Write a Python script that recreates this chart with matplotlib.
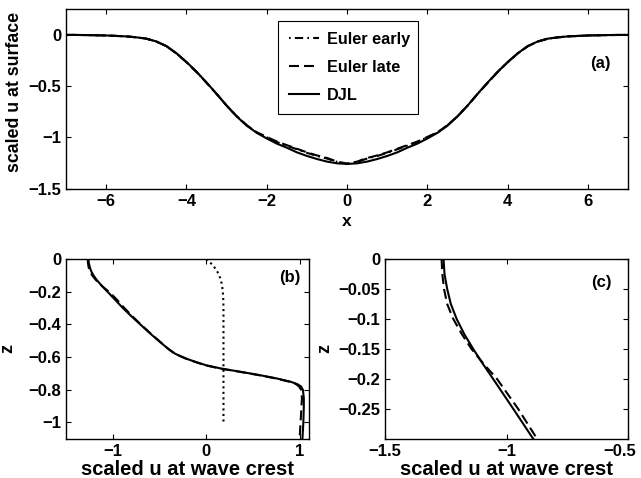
import numpy as np
import matplotlib
matplotlib.use('Agg')
import matplotlib.pyplot as plt
from matplotlib.transforms import ScaledTranslation

plt.rcParams['font.family'] = ['Liberation Sans', 'DejaVu Sans']
plt.rcParams['font.weight'] = 'bold'
plt.rcParams['axes.labelweight'] = 'bold'
plt.rcParams['font.size'] = 12

# panel (a): surface u along x
x_surf = [-7, -6.5, -6, -5.5, -5.25, -5, -4.75, -4.5, -4.25, -4, -3.75, -3.5, -3.25, -3,
          -2.75, -2.5, -2.25, -2, -1.75, -1.5, -1.25, -1, -0.75, -0.5, -0.25, 0,
          0.25, 0.5, 0.75, 1, 1.25, 1.5, 1.75, 2, 2.25, 2.5, 2.75, 3, 3.25, 3.5, 3.75, 4,
          4.25, 4.5, 4.75, 5, 5.25, 5.5, 6, 6.5, 7]
u_djl = [-0.001, -0.003, -0.007, -0.016, -0.025, -0.038, -0.065, -0.11, -0.18, -0.265,
         -0.36, -0.465, -0.575, -0.69, -0.795, -0.885, -0.955, -1.01, -1.06, -1.10, -1.145,
         -1.18, -1.21, -1.235, -1.252, -1.258,
         -1.252, -1.235, -1.21, -1.18, -1.145, -1.10, -1.06, -1.01, -0.955, -0.885, -0.795,
         -0.69, -0.575, -0.465, -0.36, -0.265, -0.18, -0.11, -0.065, -0.038, -0.025, -0.016,
         -0.007, -0.003, -0.001]
u_late = [-0.001, -0.003, -0.007, -0.016, -0.025, -0.038, -0.066, -0.112, -0.182, -0.268,
          -0.363, -0.468, -0.577, -0.69, -0.793, -0.88, -0.95, -0.995, -1.04, -1.075, -1.11,
          -1.145, -1.175, -1.20, -1.235, -1.255,
          -1.235, -1.20, -1.175, -1.145, -1.11, -1.075, -1.04, -0.995, -0.95, -0.88, -0.793,
          -0.69, -0.577, -0.468, -0.363, -0.268, -0.182, -0.112, -0.066, -0.038, -0.025,
          -0.016, -0.007, -0.003, -0.001]
u_early = [-0.001, -0.003, -0.007, -0.016, -0.025, -0.038, -0.066, -0.111, -0.181, -0.267,
           -0.362, -0.467, -0.576, -0.69, -0.794, -0.882, -0.952, -0.998, -1.045, -1.08,
           -1.115, -1.15, -1.18, -1.205, -1.238, -1.256,
           -1.238, -1.205, -1.18, -1.15, -1.115, -1.08, -1.045, -0.998, -0.952, -0.882,
           -0.794, -0.69, -0.576, -0.467, -0.362, -0.267, -0.181, -0.111, -0.066, -0.038,
           -0.025, -0.016, -0.007, -0.003, -0.001]

# panels (b),(c): u at crest along z
z_prof = [0, -0.025, -0.05, -0.075, -0.1, -0.125, -0.15, -0.175, -0.2, -0.25, -0.3, -0.35,
          -0.4, -0.45, -0.5, -0.55, -0.58, -0.61, -0.63, -0.65, -0.67, -0.69, -0.71, -0.73,
          -0.75, -0.765, -0.78, -0.8, -0.85, -0.9, -1.0, -1.1]
uc_djl = [-1.26, -1.256, -1.245, -1.23, -1.206, -1.175, -1.138, -1.098, -1.056, -0.973,
          -0.891, -0.80, -0.705, -0.61, -0.51, -0.405, -0.33, -0.21, -0.11, 0.0, 0.16, 0.37,
          0.57, 0.75, 0.90, 0.975, 1.015, 1.035, 1.045, 1.045, 1.04, 1.03]
uc_late = [-1.268, -1.265, -1.258, -1.245, -1.22, -1.185, -1.145, -1.095, -1.04, -0.953,
           -0.875, -0.79, -0.70, -0.605, -0.505, -0.405, -0.335, -0.215, -0.115, -0.01,
           0.15, 0.36, 0.56, 0.74, 0.885, 0.96, 0.995, 1.015, 1.025, 1.02, 1.01, 1.0]
z_early = [0, -0.02, -0.04, -0.06, -0.08, -0.1, -0.125, -0.15, -0.175, -0.2, -0.25, -0.3,
           -0.5, -0.7, -1.0]
uc_early = [0.0, 0.04, 0.075, 0.1, 0.122, 0.14, 0.155, 0.166, 0.173, 0.178, 0.183, 0.185,
            0.185, 0.185, 0.185]

a_xticks = [-6, -4, -2, 0, 2, 4, 6]
a_xlabels = ['\u22126', '\u22124', '\u22122', '0', '2', '4', '6']
a_yticks = [0, -0.5, -1, -1.5]
a_ylabels = ['0', '\u22120.5', '\u22121', '\u22121.5']
b_xticks = [-1, 0, 1]
b_xlabels = ['\u22121', '0', '1']
b_yticks = [0, -0.2, -0.4, -0.6, -0.8, -1]
b_ylabels = ['0', '\u22120.2', '\u22120.4', '\u22120.6', '\u22120.8', '\u22121']
c_xticks = [-1.5, -1, -0.5]
c_xlabels = ['\u22121.5', '\u22121', '\u22120.5']
c_yticks = [0, -0.05, -0.1, -0.15, -0.2, -0.25]
c_ylabels = ['0', '\u22120.05', '\u22120.1', '\u22120.15', '\u22120.2', '\u22120.25']

lw = 1.5
dash = (4.8, 2.4)
dashdot = (0.8, 2.0, 4.0, 2.0)

fig = plt.figure(figsize=(6.41, 4.78), dpi=100)
axa = fig.add_axes([0.103, 0.605, 0.877, 0.376])
axb = fig.add_axes([0.103, 0.082, 0.379, 0.376])
axc = fig.add_axes([0.601, 0.082, 0.379, 0.376])

def style(ax):
    ax.tick_params(direction='in', top=True, right=True, length=3.5, width=0.8, labelsize=12)
    for s in ax.spines.values():
        s.set_linewidth(1.0)

# (a)
axa.plot(x_surf, u_early, color='k', lw=lw, dashes=dashdot, label='Euler early')
axa.plot(x_surf, u_late, color='k', lw=lw, dashes=dash, label='Euler late')
axa.plot(x_surf, u_djl, color='k', lw=lw, label='DJL')
axa.set_xlim(-7, 7)
axa.set_ylim(-1.5, 0.25)
axa.set_xticks(a_xticks, a_xlabels)
axa.set_yticks(a_yticks, a_ylabels)
axa.set_xlabel('x', fontsize=12.5, labelpad=4)
axa.set_ylabel('scaled u at surface', fontsize=12.8)
axa.yaxis.set_label_coords(-0.077, 0.54)
axa.text(0.95, 0.70, '(a)', transform=axa.transAxes, ha='center', va='center', fontsize=12)
leg = axa.legend(loc='upper left', bbox_to_anchor=(0.377, 0.433, 0.249, 0.5), mode='expand',
                 borderaxespad=0, fontsize=11.7, handlelength=1.86, labelspacing=0.78,
                 handletextpad=0.48, fancybox=False, edgecolor='k', framealpha=1,
                 borderpad=0.68)
leg.get_frame().set_linewidth(0.8)
style(axa)

# (b)
axb.plot(uc_early, z_early, color='k', lw=lw, ls=':')
axb.plot(uc_late, z_prof, color='k', lw=lw, dashes=dash)
axb.plot(uc_djl, z_prof, color='k', lw=lw)
axb.set_xlim(-1.5, 1.1)
axb.set_ylim(-1.1, 0)
axb.set_xticks(b_xticks, b_xlabels)
axb.set_yticks(b_yticks, b_ylabels)
axb.set_xlabel('scaled u at wave crest', fontsize=14.5, labelpad=1)
axb.set_ylabel('z', fontsize=13)
axb.yaxis.set_label_coords(-0.205, 0.5)
axb.text(0.92, 0.897, '(b)', transform=axb.transAxes, ha='center', va='center', fontsize=12)
style(axb)

# (c)
axc.plot(uc_late, z_prof, color='k', lw=lw, dashes=dash)
axc.plot(uc_djl, z_prof, color='k', lw=lw)
axc.set_xlim(-1.5, -0.5)
axc.set_ylim(-0.3, 0)
axc.set_xticks(c_xticks, c_xlabels)
axc.set_yticks(c_yticks, c_ylabels)
axc.set_xlabel('scaled u at wave crest', fontsize=14.5, labelpad=1)
axc.set_ylabel('z', fontsize=13)
axc.yaxis.set_label_coords(-0.215, 0.5)
axc.text(0.89, 0.872, '(c)', transform=axc.transAxes, ha='center', va='center', fontsize=12)
style(axc)
# keep the last tick label inside the figure, as in the reference
last = axc.get_xticklabels()[-1]
last.set_transform(last.get_transform() + ScaledTranslation(-6 / 72, 0, fig.dpi_scale_trans))

fig.savefig('out.png', dpi=100)
